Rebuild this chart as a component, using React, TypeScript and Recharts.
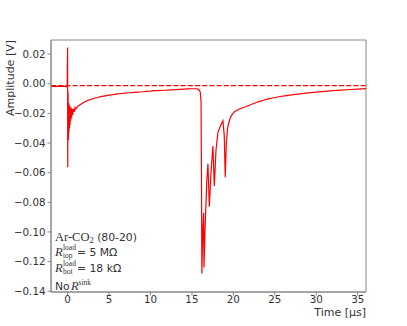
import React from "react";
import { LineChart, Line, XAxis, YAxis, ReferenceLine, ReferenceArea } from "recharts";

const times: number[] = [
  -2, -1.7, -1.4, -1.1, -0.8, -0.5, -0.25, -0.05,
  0.0, 0.02, 0.05, 0.08, 0.1, 0.13, 0.16, 0.19, 0.22, 0.26, 0.3, 0.34, 0.38, 0.43, 0.48, 0.55, 0.62, 0.7, 0.8, 0.9, 1.0,
  1.2, 1.4, 1.7, 2.0, 2.4, 2.8, 3.2, 3.6, 4.0, 4.5, 5.0, 5.5, 6.0, 6.5, 7.0, 7.5, 8.0, 8.5, 9.0, 9.5, 10.0,
  10.5, 11.0, 11.5, 12.0, 12.5, 13.0, 13.5, 14.0, 14.5, 15.0, 15.5, 15.8, 16.0, 16.1,
  16.15, 16.2, 16.3, 16.41, 16.45, 16.6, 16.8, 16.93, 17.1, 17.3, 17.53, 17.7, 17.9, 18.13, 18.4, 18.74, 18.9, 19.02, 19.15, 19.3, 19.46,
  19.7, 20.1, 20.7, 21.5, 22.3, 23.0, 24.0, 25.0, 26.0, 27.0, 28.0, 29.0, 30.0, 31.0, 32.0, 33.0, 34.0, 35.0, 36.0,
];

const amplitudes: number[] = [
  -0.0018, -0.0016, -0.0019, -0.0017, -0.0018, -0.0016, -0.0019, -0.0018,
  0.0245, -0.0563, -0.005, -0.016, -0.038, -0.013, -0.033, -0.014, -0.03, -0.015, -0.028, -0.016, -0.025, -0.016, -0.023, -0.017, -0.021, -0.017, -0.019, -0.016, -0.017,
  -0.0155, -0.0145, -0.0135, -0.0125, -0.0113, -0.0106, -0.0098, -0.0093, -0.0087, -0.0082, -0.0077, -0.0074, -0.0069, -0.0066, -0.0063, -0.0061, -0.0058, -0.0056, -0.0054, -0.0051, -0.005,
  -0.0047, -0.0046, -0.0044, -0.0043, -0.0041, -0.004, -0.0038, -0.0036, -0.0035, -0.0034, -0.0034, -0.0038, -0.0055, -0.012,
  -0.06, -0.128, -0.1, -0.087, -0.124, -0.095, -0.065, -0.054, -0.083, -0.06, -0.042, -0.069, -0.045, -0.033, -0.029, -0.025, -0.035, -0.063, -0.04, -0.03, -0.026,
  -0.022, -0.019, -0.017, -0.0155, -0.0137, -0.0122, -0.0105, -0.0093, -0.0083, -0.0075, -0.0068, -0.0062, -0.0056, -0.0052, -0.0047, -0.0043, -0.0039, -0.0036, -0.0033,
];

const baselineLevel = -0.0013;
const xTicks: number[] = [0, 5, 10, 15, 20, 25, 30, 35];
const yTicks: number[] = [0.02, 0, -0.02, -0.04, -0.06, -0.08, -0.1, -0.12, -0.14];
const xDomain: [number, number] = [-2, 36];
const yDomain: [number, number] = [-0.1405, 0.0295];

const data = times.map((t, i) => ({ t, v: amplitudes[i] }));

const fmtY = (v: number) => (Math.abs(v) < 1e-9 ? "0.00" : v.toFixed(2)).replace("-", "\u2212");

const SANS = "DejaVu Sans";
const SERIF = "Liberation Serif";
const TXT = "#333";
const AX = "#888";

export default function App() {
  return (
    <div style={{ position: "absolute", left: 0, top: 0, width: 407, height: 326, background: "#fff" }}>
      <LineChart width={407} height={326} data={data} margin={{ top: 40, right: 41, bottom: 4, left: 6 }}>
        <XAxis
          type="number"
          dataKey="t"
          domain={xDomain}
          ticks={xTicks}
          allowDataOverflow
          interval={0}
          height={30}
          tickSize={3.5}
          tickMargin={0}
          stroke={AX}
          tick={{ fill: TXT, fontSize: 10.3, fontFamily: SANS }}
        />
        <YAxis
          type="number"
          domain={yDomain}
          ticks={yTicks}
          allowDataOverflow
          interval={0}
          width={45}
          tickSize={3.5}
          tickMargin={2}
          stroke={AX}
          tickFormatter={fmtY}
          tick={{ fill: TXT, fontSize: 10.3, fontFamily: SANS }}
        />
        <ReferenceArea x1={xDomain[0]} x2={xDomain[1]} y1={yDomain[0]} y2={yDomain[1]} fill="none" stroke={AX} strokeWidth={1} />
        <ReferenceLine y={baselineLevel} stroke="#ff0000" strokeWidth={1.3} strokeDasharray="5 2.2" />
        <Line type="linear" dataKey="v" stroke="#ff0000" strokeWidth={1.2} dot={false} isAnimationActive={false} />
      </LineChart>
      <svg width={407} height={326} style={{ position: "absolute", left: 0, top: 0, pointerEvents: "none" }}>
        <text x={14} y={40} transform="rotate(-90 14 40)" textAnchor="end" fontFamily={SANS} fontSize={11} fill={TXT}>
          Amplitude [V]
        </text>
        <text x={366} y={315.5} textAnchor="end" fontFamily={SANS} fontSize={11} fill={TXT}>
          Time [µs]
        </text>
        <g fill={TXT}>
          <text x={55} y={240.5} fontFamily={SERIF} fontSize={12.5}>
            Ar-CO<tspan fontSize={8.5} dy={2.5}>2</tspan>
            <tspan fontFamily={SANS} fontSize={10.8} dy={-2.5}> (80-20)</tspan>
          </text>
          <text x={55} y={255.5} fontFamily={SERIF} fontSize={12.5} fontStyle="italic">R</text>
          <text x={63} y={249.7} fontFamily={SERIF} fontSize={7.5}>load</text>
          <text x={63} y={257.5} fontFamily={SERIF} fontSize={7.5}>top</text>
          <text x={77} y={255.5} fontFamily={SANS} fontSize={10.8}>= 5 MΩ</text>
          <text x={55} y={272} fontFamily={SERIF} fontSize={12.5} fontStyle="italic">R</text>
          <text x={63} y={266} fontFamily={SERIF} fontSize={7.5}>load</text>
          <text x={63} y={274} fontFamily={SERIF} fontSize={7.5}>bot</text>
          <text x={77} y={272} fontFamily={SANS} fontSize={10.8}>= 18 kΩ</text>
          <text x={55} y={290} fontFamily={SANS} fontSize={10.8}>No</text>
          <text x={71} y={290} fontFamily={SERIF} fontSize={12.5} fontStyle="italic">R</text>
          <text x={78.5} y={284.5} fontFamily={SERIF} fontSize={7.5}>sink</text>
        </g>
      </svg>
    </div>
  );
}
